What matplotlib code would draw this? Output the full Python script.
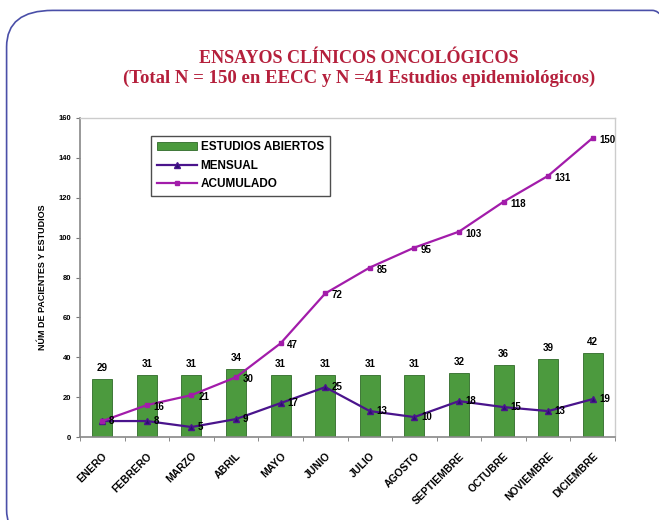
import matplotlib.pyplot as plt
from matplotlib.patches import FancyBboxPatch
import numpy as np

meses = ["ENERO", "FEBRERO", "MARZO", "ABRIL", "MAYO", "JUNIO", "JULIO",
         "AGOSTO", "SEPTIEMBRE", "OCTUBRE", "NOVIEMBRE", "DICIEMBRE"]
abiertos = [29, 31, 31, 34, 31, 31, 31, 31, 32, 36, 39, 42]
mensual = [8, 8, 5, 9, 17, 25, 13, 10, 18, 15, 13, 19]
acumulado = [8, 16, 21, 30, 47, 72, 85, 95, 103, 118, 131, 150]

plt.rcParams['font.family'] = ['Liberation Sans', 'DejaVu Sans']

fig = plt.figure(figsize=(6.59, 5.2), dpi=100)
# rounded frame around the whole slide
frame = FancyBboxPatch((0.01, -0.05), 1.05, 1.03, boxstyle="round,pad=0,rounding_size=0.07",
                       transform=fig.transFigure, fill=False, edgecolor="#4a4fa8", linewidth=1.2)
fig.patches.append(frame)

fig.text(0.545, 0.888, "ENSAYOS CLÍNICOS ONCOLÓGICOS", ha="center", va="center",
         fontsize=13, fontweight="bold", color="#b5203c", family="Liberation Serif")
fig.text(0.545, 0.849, "(Total N = 150 en EECC y N =41 Estudios epidemiológicos)", ha="center",
         va="center", fontsize=13.5, fontweight="bold", color="#b5203c", family="Liberation Serif")

ax = fig.add_axes([80 / 659, 1 - 437 / 520, 535 / 659, 319 / 520])
x = np.arange(len(meses))

bars = ax.bar(x, abiertos, width=0.45, color="#4c9a3e", edgecolor="#2f6a28", linewidth=0.6,
              label="ESTUDIOS ABIERTOS", zorder=2)
l1, = ax.plot(x, mensual, color="#4a148c", marker="^", markersize=5, markerfacecolor="#2a1070",
              linewidth=1.6, label="MENSUAL", zorder=3)
l2, = ax.plot(x, acumulado, color="#a21caa", marker="s", markersize=3, linewidth=1.6,
              label="ACUMULADO", zorder=3)

for i, v in enumerate(abiertos):
    ax.text(x[i], v + 3, str(v), ha="center", va="bottom", fontsize=7, fontweight="bold")
for i, v in enumerate(mensual):
    ax.text(x[i] + 0.15, v, str(v), ha="left", va="center", fontsize=7, fontweight="bold")
for i, v in enumerate(acumulado[1:], start=1):
    ax.text(x[i] + 0.15, v - 1, str(v), ha="left", va="center", fontsize=7, fontweight="bold")

ax.set_xlim(-0.5, 11.5)
ax.set_ylim(0, 160)
ax.set_yticks(range(0, 161, 20))
ax.set_xticks(x)
ax.set_xticklabels(meses, rotation=45, ha="right", rotation_mode="anchor",
                   fontsize=7.5, fontweight="bold")
ax.set_xticks(np.arange(-0.5, 12, 1), minor=True)
ax.tick_params(axis="x", which="major", length=0, pad=10)
ax.tick_params(axis="x", which="minor", length=3, color="#777777")
ax.tick_params(axis="y", labelsize=5.5, length=3, color="#777777")
for lbl in ax.get_yticklabels():
    lbl.set_fontweight("bold")
ax.set_ylabel("NÚM DE PACIENTES Y ESTUDIOS", fontsize=6.5, fontweight="bold", labelpad=8)

for s in ["left", "bottom"]:
    ax.spines[s].set_color("#888888")
    ax.spines[s].set_linewidth(1.2)
for s in ["top", "right"]:
    ax.spines[s].set_color("#cccccc")
    ax.spines[s].set_linewidth(1.0)

leg = ax.legend([bars, l1, l2], ["ESTUDIOS ABIERTOS", "MENSUAL", "ACUMULADO"],
                loc="upper left", bbox_to_anchor=(0.133, 0.945),
                prop={"weight": "bold", "size": 8.5}, frameon=True, fancybox=False,
                borderpad=0.5, labelspacing=0.55, handlelength=3.4, handletextpad=0.3,
                borderaxespad=0)
leg.get_frame().set_edgecolor("#222222")
leg.get_frame().set_linewidth(1.0)

fig.savefig("out.png", dpi=100)
